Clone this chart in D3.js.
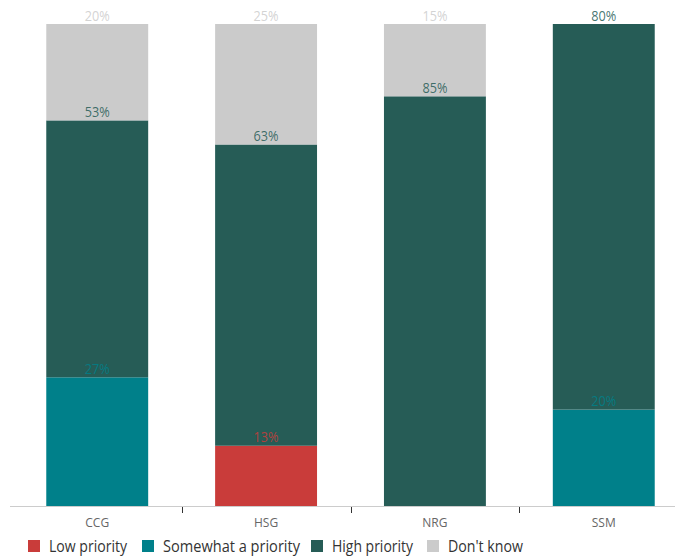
<!DOCTYPE html>
<html><head><meta charset="utf-8">
<script src="https://cdn.jsdelivr.net/npm/d3@7"></script>
<style>body{margin:0;background:#fff;font-family:"Open Sans",sans-serif;}</style>
</head><body>
<svg id="c" width="675" height="559"></svg>
<script>
const categories = ["CCG", "HSG", "NRG", "SSM"];
const seriesNames = ["Low priority", "Somewhat a priority", "High priority", "Don't know"];
const lowPriority = [0, 12.5, 0, 0];
const somewhatPriority = [26.7, 0, 0, 20];
const highPriority = [53.3, 62.5, 85, 80];
const dontKnow = [20, 25, 15, 0];
const lowLabels = ["", "13%", "", ""];
const somewhatLabels = ["27%", "", "", "20%"];
const highLabels = ["53%", "63%", "85%", "80%"];
const dontKnowLabels = ["20%", "25%", "15%", ""];
const valueLabels = [lowLabels, somewhatLabels, highLabels, dontKnowLabels];
const colors = ["#c93c3a", "#00808a", "#265c56", "#cbcbcb"];

const svg = d3.select("#c");
const x2 = d3.scaleBand().domain(categories).range([12.5, 688.5]).paddingInner(0.3964).paddingOuter(0.2);
const y = d3.scaleLinear().domain([0, 100]).range([506, 24]);

const table = categories.map((c, i) => ({
  cat: c, s0: lowPriority[i], s1: somewhatPriority[i], s2: highPriority[i], s3: dontKnow[i]
}));
const stack = d3.stack().keys(["s0", "s1", "s2", "s3"])(table);

const g = svg.append("g");
stack.forEach((layer, li) => {
  g.selectAll(null).data(layer).enter().append("rect")
    .attr("x", d => x2(d.data.cat))
    .attr("width", x2.bandwidth())
    .attr("y", d => y(d[1]))
    .attr("height", d => Math.max(0, y(d[0]) - y(d[1])))
    .attr("fill", colors[li]);
});
stack.forEach((layer, li) => {
  g.selectAll(null).data(layer).enter().append("text")
    .attr("x", d => x2(d.data.cat) + x2.bandwidth() / 2)
    .attr("y", d => y(d[1]) - 3.5)
    .attr("text-anchor", "middle")
    .attr("font-size", 14)
    .attr("fill", colors[li])
    .attr("fill-opacity", 0.85)
    .text((d, i) => valueLabels[li][i])
    .each(function() { if (this.textContent) d3.select(this).attr("textLength", 25).attr("lengthAdjust", "spacingAndGlyphs"); });
});

// axis
svg.append("line").attr("x1", 10).attr("x2", 675).attr("y1", 506.5).attr("y2", 506.5)
  .attr("stroke", "#ccc").attr("stroke-width", 1);
const step = x2.step();
categories.slice(1).forEach(c => {
  const tx = Math.round(x2(c) - (step - x2.bandwidth()) / 2) + 0.5;
  svg.append("line").attr("x1", tx).attr("x2", tx).attr("y1", 507).attr("y2", 513)
    .attr("stroke", "#333").attr("stroke-width", 1);
});
svg.selectAll(null).data(categories).enter().append("text")
  .attr("x", d => x2(d) + x2.bandwidth() / 2)
  .attr("y", 527)
  .attr("text-anchor", "middle")
  .attr("font-size", 12)
  .attr("fill", "#666")
  .text(d => d);

// legend
const legendX = [28, 142, 311, 427];
const legendW = [78, 137, 81, 75];
seriesNames.forEach((n, i) => {
  svg.append("rect").attr("x", legendX[i]).attr("y", 540).attr("width", 12).attr("height", 12).attr("fill", colors[i]);
  svg.append("text").attr("x", legendX[i] + 21).attr("y", 552).attr("font-size", 15.5)
    .attr("fill", "#333").attr("textLength", legendW[i]).attr("lengthAdjust", "spacingAndGlyphs").text(n);
});
</script>
</body></html>
